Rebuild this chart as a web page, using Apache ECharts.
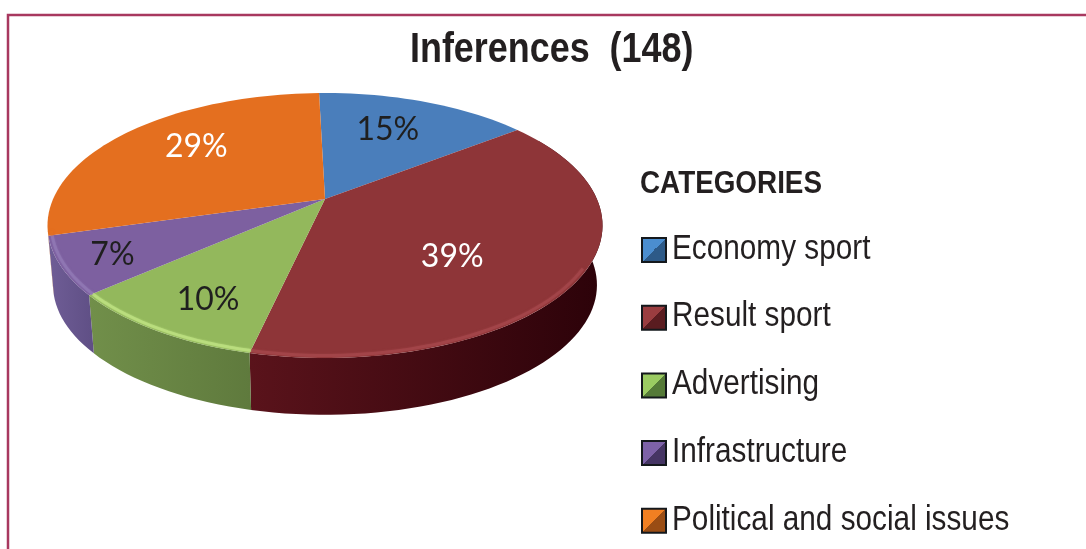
<!DOCTYPE html>
<html>
<head>
<meta charset="utf-8">
<style>
  html, body { margin: 0; background: #fff; }
  #chart { width: 1086px; height: 549px; }
</style>
<script src="https://cdn.jsdelivr.net/npm/echarts@6/dist/echarts.min.js"></script>
</head>
<body>
<div id="chart"></div>
<script>
const categories = ['Economy sport', 'Result sport', 'Advertising', 'Infrastructure', 'Political and social issues']
const shares = [15, 39, 10, 7, 29]

const topColors = ['#4a7ebb', '#8e3538', '#93b85c', '#7d60a0', '#e46f1f']
const rimColors = ['#4a7ebb', '#a5474b', '#bfe283', '#9279b5', '#e46f1f']
const wallColors = [
  ['#3a6391', '#2c4d73'],
  ['#5a131b', '#2c0209'],
  ['#718f4a', '#5f7a3d'],
  ['#6f5d96', '#5f4f85'],
  ['#b85a18', '#9c4a12']
]
const labelColors = ['#1f1f1f', '#ffffff', '#1f1f1f', '#1f1f1f', '#ffffff']
const swatchColors = [
  ['#4b8ed0', '#2d5a88'],
  ['#9a3d40', '#5a1c20'],
  ['#9bcb62', '#557a38'],
  ['#7d62a8', '#453564'],
  ['#f07f22', '#9a4d14']
]

// projection of the tilted disc, picked to sit on the reference
const apexX = 325
const apexY = 199
const scaleX = 271.9
const scaleY = 127.2
const tilt = 0.2
const depth = 60
const bottomScale = 0.98
const startAngle = -1.5
// the wall is only seen on the front of the disc
const wallFrom = 60
const wallTo = 256
const shineFrom = 120
// where each percent label sits inside its slice
const labelRadius = [0.68, 0.59, 0.77, 0.82, 0.70]
const labelTurn = [-3, 10.5, -2, 0, 6]

const narrowFont = '"Liberation Sans", Arial, sans-serif'
const total = shares.reduce((a, b) => a + b, 0)

function project(deg, r, drop, scale) {
  const t = deg * Math.PI / 180
  const u = Math.sin(t) * r
  const v = Math.cos(t) * r
  const w = 1 + tilt * v
  return [apexX + scale * scaleX * u / w, apexY + drop - scale * scaleY * v / w]
}

function arcPoints(from, to, r, drop, scale) {
  const pts = []
  const steps = Math.max(2, Math.ceil((to - from) / 2))
  for (let i = 0; i <= steps; i++) {
    pts.push(project(from + (to - from) * i / steps, r, drop, scale))
  }
  return pts
}

function sliceRange(index) {
  let sum = 0
  for (let i = 0; i < index; i++) sum += shares[i]
  return [startAngle + sum / total * 360, startAngle + (sum + shares[index]) / total * 360]
}

function renderSlice(index) {
  const [from, to] = sliceRange(index)
  const rim = arcPoints(from, to, 1, 0, 1)
  const mid = (from + to) / 2 + labelTurn[index]
  const pos = project(mid, labelRadius[index], 2, 1)
  const children = [
    {
      type: 'polygon',
      z2: 2,
      shape: { points: [[apexX, apexY]].concat(rim) },
      style: { fill: topColors[index] }
    },
    {
      type: 'text',
      z2: 4,
      x: pos[0],
      y: pos[1],
      style: {
        text: shares[index] + '%',
        fill: labelColors[index],
        font: '32px Lato, "Open Sans", sans-serif',
        align: 'center',
        verticalAlign: 'middle'
      }
    }
  ]
  const wallStart = Math.max(from, wallFrom)
  const wallEnd = Math.min(to, wallTo)
  if (wallEnd > wallStart) {
    const upper = arcPoints(wallStart, wallEnd, 1, 0, 1)
    const lower = arcPoints(wallStart, wallEnd, 1, depth, bottomScale)
    children.push({
      type: 'polygon',
      z2: 1,
      shape: { points: upper.concat(lower.reverse()) },
      style: {
        fill: new echarts.graphic.LinearGradient(0, 0, 1, 0, [
          { offset: 0, color: wallColors[index][0] },
          { offset: 1, color: wallColors[index][1] }
        ])
      }
    })
    children.push({
      type: 'polyline',
      z2: 3,
      shape: { points: arcPoints(Math.max(wallStart, shineFrom), wallEnd, 0.987, 0, 1) },
      style: {
        fill: 'none',
        stroke: rimColors[index],
        lineWidth: 3,
        opacity: 0.7,
        shadowBlur: 2,
        shadowColor: rimColors[index]
      }
    })
  }
  return { type: 'group', children }
}

// squeezed text, there is no narrow face installed
function squeezedText(text, x, y, size, weight, squeeze) {
  return {
    type: 'text',
    silent: true,
    x,
    y,
    scaleX: squeeze,
    style: {
      text,
      fill: '#231f20',
      font: weight + ' ' + size + 'px ' + narrowFont,
      verticalAlign: 'middle'
    }
  }
}

const chart = echarts.init(document.getElementById('chart'))

chart.setOption({
  backgroundColor: '#ffffff',
  animation: false,
  legend: {
    orient: 'vertical',
    left: 641,
    top: 237,
    padding: 0,
    icon: 'rect',
    itemWidth: 24,
    itemHeight: 24,
    itemGap: 41.7,
    selectedMode: false,
    formatter: () => ' ',
    data: categories.map((name, i) => ({
      name,
      itemStyle: {
        color: new echarts.graphic.LinearGradient(0, 0, 1, 1, [
          { offset: 0, color: swatchColors[i][0] },
          { offset: 0.5, color: swatchColors[i][0] },
          { offset: 0.5, color: swatchColors[i][1] },
          { offset: 1, color: swatchColors[i][1] }
        ]),
        borderColor: '#14181c',
        borderWidth: 2
      }
    }))
  },
  graphic: [
    {
      type: 'polyline',
      silent: true,
      shape: { points: [[8, 549], [8, 15], [1086, 15]] },
      style: { fill: 'none', stroke: '#a8385f', lineWidth: 2.5 }
    },
    squeezedText('Inferences  (148)', 410, 50, 42, 'bold', 0.855),
    squeezedText('CATEGORIES', 640, 184, 32, 'bold', 0.87),
    ...categories.map((name, i) => squeezedText(name, 672, 249 + i * 67.8, 35, 'normal', 0.85))
  ],
  series: categories.map((name, i) => ({
    type: 'custom',
    name,
    coordinateSystem: 'none',
    silent: true,
    itemStyle: { color: topColors[i] },
    data: [shares[i]],
    renderItem() {
      return renderSlice(i)
    }
  }))
})
</script>
</body>
</html>
